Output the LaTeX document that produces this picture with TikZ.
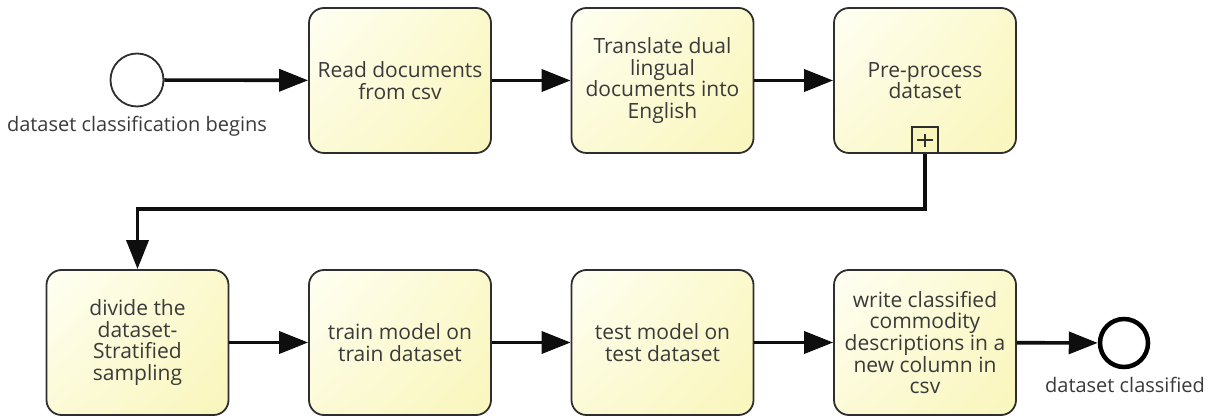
\documentclass[tikz,border=0pt]{standalone}
\usepackage{fontspec}
\setmainfont{Open Sans}
\usetikzlibrary{arrows.meta,shadings}
\definecolor{ink}{HTML}{3A3A3A}
\definecolor{edge}{HTML}{2E2E2E}
\definecolor{flowc}{HTML}{0E0E0E}
\definecolor{fillUL}{HTML}{FFFFF4}
\definecolor{fillUR}{HTML}{FBF9CC}
\definecolor{fillLL}{HTML}{FCFAD6}
\definecolor{fillLR}{HTML}{F9F6BC}
\tikzset{
  task/.style={rectangle, rounded corners=15pt, draw=edge, line width=1.8pt,
    minimum width=182pt, minimum height=145pt, inner sep=0pt,
    upper left=fillUL, upper right=fillUR, lower left=fillLL, lower right=fillLR,
    align=center, text=ink, font=\fontsize{21}{21.7}\selectfont},
  startev/.style={circle, draw=edge, line width=1.8pt, fill=white,
    minimum size=53pt, inner sep=0pt},
  endev/.style={circle, draw=black, line width=4.5pt, fill=white,
    minimum size=48pt, inner sep=0pt},
  evlabel/.style={text=ink, font=\fontsize{20}{22}\selectfont, inner sep=0pt},
  flow/.style={draw=flowc, line width=3.6pt,
    -{Triangle[length=29pt,width=22pt]}},
  marker/.style={draw=edge, line width=1.6pt, fill=fillLR,
    minimum size=26pt, inner sep=0pt, anchor=south}
}
\begin{document}
\begin{tikzpicture}[x=1pt, y=-1pt]
  \useasboundingbox (0,0) rectangle (1210,419);

  % events
  \node[startev] (start) at (137,80) {};
  \node[evlabel] (startlbl) at (137,126) {dataset classification begins};
  \node[endev] (end) at (1124,343) {};
  \node[evlabel] (endlbl) at (1125,385) {dataset classified};

  % upper row of tasks
  \node[task] (t1) at (400,80.5) {Read documents\\from csv};
  \node[task] (t2) at (662.5,80.5) {Translate dual\\lingual\\documents into\\English};
  \node[task] (t3) at (925,80.5) {Pre-process\\dataset};

  % collapsed sub-process marker
  \node[marker] (plus) at (t3.south) {};
  \draw[edge, line width=1.4pt] ([yshift=-6.5pt]plus.center) -- ([yshift=6.5pt]plus.center)
        ([xshift=-8pt]plus.center) -- ([xshift=8pt]plus.center);

  % lower row of tasks
  \node[task] (t4) at (137.5,342.5) {divide the\\dataset-\\Stratified\\sampling};
  \node[task] (t5) at (400,342.5) {train model on\\train dataset};
  \node[task] (t6) at (662.5,342.5) {test model on\\test dataset};
  \node[task] (t7) at (925,342.5) {write classified\\commodity\\descriptions in a\\new column in\\csv};

  % sequence flows
  \coordinate (bend) at (0,209);
  \draw[flow] (start) -- (t1);
  \draw[flow] (t1) -- (t2);
  \draw[flow] (t2) -- (t3);
  \draw[flow] (plus.south) -- (plus.south |- bend) -| (t4.north);
  \draw[flow] (t4) -- (t5);
  \draw[flow] (t5) -- (t6);
  \draw[flow] (t6) -- (t7);
  \draw[flow] (t7) -- (end);
\end{tikzpicture}
\end{document}
